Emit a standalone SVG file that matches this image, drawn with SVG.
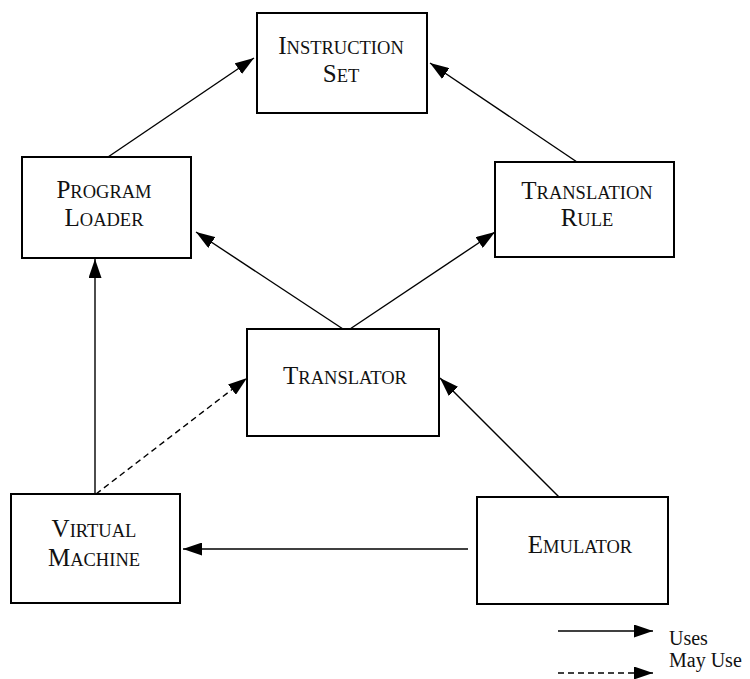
<svg xmlns="http://www.w3.org/2000/svg" width="750" height="679" viewBox="0 0 750 679">
  <style>
    .box { fill: #ffffff; stroke: #000000; stroke-width: 2; }
    .lbl { font-family: "Liberation Serif", "Times New Roman", serif; font-size: 18.5px; fill: #111111; text-anchor: middle; }
    .cap { font-size: 25px; }
    .leg { font-family: "Liberation Serif", "Times New Roman", serif; font-size: 20px; fill: #111111; }
    .edge { stroke: #000000; stroke-width: 1.4; fill: none; marker-end: url(#arrow); }
    .dash { stroke-dasharray: 6 4; }
  </style>
  <defs>
    <marker id="arrow" markerUnits="userSpaceOnUse" markerWidth="19" markerHeight="13" refX="19" refY="6.5" orient="auto">
      <path d="M0,0 L19,6.5 L0,13 Z" fill="#000000"/>
    </marker>
  </defs>
  <rect width="750" height="679" fill="#ffffff"/>

  <g id="connectors">
    <line class="edge" x1="108" y1="157" x2="254" y2="58"/>
    <line class="edge" x1="577" y1="162" x2="430" y2="63"/>
    <line class="edge" x1="343" y1="329" x2="196" y2="232"/>
    <line class="edge" x1="350" y1="329" x2="495" y2="232"/>
    <line class="edge" x1="95" y1="494" x2="95" y2="259"/>
    <line class="edge dash" x1="96" y1="494" x2="247" y2="378"/>
    <line class="edge" x1="559" y1="497" x2="440" y2="378"/>
    <line class="edge" x1="468" y1="549" x2="183" y2="549"/>
  </g>

  <g id="instruction-set">
    <rect class="box" x="257" y="13" width="170" height="100"/>
    <text class="lbl" x="341" y="54"><tspan class="cap">I</tspan>NSTRUCTION</text>
    <text class="lbl" x="341" y="82"><tspan class="cap">S</tspan>ET</text>
  </g>

  <g id="program-loader">
    <rect class="box" x="22" y="157" width="169" height="101"/>
    <text class="lbl" x="104" y="198"><tspan class="cap">P</tspan>ROGRAM</text>
    <text class="lbl" x="104" y="226"><tspan class="cap">L</tspan>OADER</text>
  </g>

  <g id="translation-rule">
    <rect class="box" x="495" y="162" width="179" height="95"/>
    <text class="lbl" x="587" y="199"><tspan class="cap">T</tspan>RANSLATION</text>
    <text class="lbl" x="587" y="226"><tspan class="cap">R</tspan>ULE</text>
  </g>

  <g id="translator">
    <rect class="box" x="247" y="329" width="192" height="107"/>
    <text class="lbl" x="345" y="384"><tspan class="cap">T</tspan>RANSLATOR</text>
  </g>

  <g id="virtual-machine">
    <rect class="box" x="11" y="494" width="169" height="109"/>
    <text class="lbl" x="94" y="537"><tspan class="cap">V</tspan>IRTUAL</text>
    <text class="lbl" x="94" y="566"><tspan class="cap">M</tspan>ACHINE</text>
  </g>

  <g id="emulator">
    <rect class="box" x="477" y="497" width="191" height="107"/>
    <text class="lbl" x="580" y="553"><tspan class="cap">E</tspan>MULATOR</text>
  </g>

  <g id="legend">
    <line class="edge" x1="558" y1="631" x2="653" y2="631"/>
    <text class="leg" x="669" y="645">Uses</text>
    <text class="leg" x="669" y="667">May Use</text>
    <line class="edge dash" x1="558" y1="673" x2="653" y2="673"/>
  </g>
</svg>
